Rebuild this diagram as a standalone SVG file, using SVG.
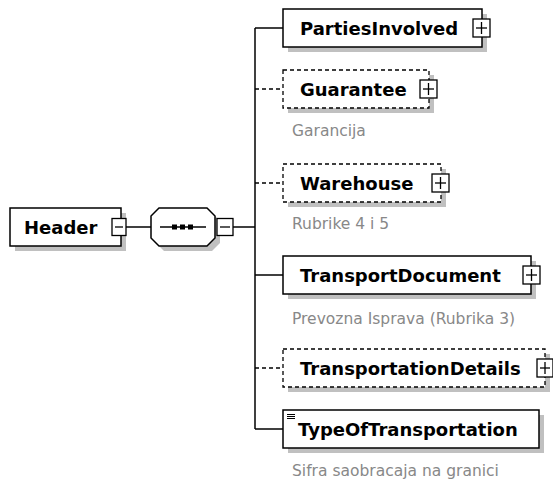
<svg xmlns="http://www.w3.org/2000/svg" width="553" height="480" viewBox="0 0 553 480">
<style>
  .box{fill:#fff;stroke:#000;stroke-width:1.5}
  .opt{fill:#fff;stroke:#000;stroke-width:1.3;stroke-dasharray:4 3}
  .shadow{fill:#c0c0c0;stroke:none}
  .btn{fill:#fff;stroke:#000;stroke-width:1.3}
  .sign{stroke:#000;stroke-width:1.3;fill:none}
  .name{font-family:"DejaVu Sans",Verdana,sans-serif;font-weight:bold;font-size:18px;fill:#000}
  .ann{font-family:"DejaVu Sans",Verdana,sans-serif;font-size:15.5px;fill:#888}
  .line{stroke:#000;stroke-width:1.5;fill:none}
  .dline{stroke:#000;stroke-width:1.3;fill:none;stroke-dasharray:4 3}
</style>
<rect width="553" height="480" fill="#fff"/>
<g id="connectors">
  <line class="line" x1="126" y1="227" x2="151" y2="227"/>
  <line class="line" x1="233" y1="227" x2="255" y2="227"/>
  <line class="line" x1="255" y1="28" x2="255" y2="429"/>
  <line class="line" x1="255" y1="28" x2="283" y2="28"/>
  <line class="dline" x1="255" y1="89" x2="283" y2="89"/>
  <line class="dline" x1="255" y1="183" x2="283" y2="183"/>
  <line class="line" x1="255" y1="275" x2="283" y2="275"/>
  <line class="dline" x1="255" y1="368" x2="283" y2="368"/>
  <line class="line" x1="255" y1="429" x2="283" y2="429"/>
</g>
<g id="Header">
  <rect class="shadow" x="15" y="213" width="111" height="38"/>
  <rect class="box" x="10" y="208" width="111" height="38"/>
  <text class="name" x="24" y="233.5">Header</text>
  <rect class="btn" x="112" y="218.5" width="14" height="17"/>
  <line class="sign" x1="115" y1="227" x2="123" y2="227"/>
</g>
<g id="sequence">
  <polygon class="shadow" points="164,213 212,213 220,221 220,243 212,251 164,251 156,243 156,221"/>
  <polygon class="box" points="159,208 207,208 215,216 215,238 207,246 159,246 151,238 151,216"/>
  <line class="line" x1="160" y1="227" x2="206" y2="227"/>
  <rect x="172" y="224.5" width="5" height="5" fill="#000"/>
  <rect x="180" y="224.5" width="5" height="5" fill="#000"/>
  <rect x="188" y="224.5" width="5" height="5" fill="#000"/>
  <rect class="btn" x="217" y="218.5" width="16" height="17"/>
  <line class="sign" x1="220" y1="227" x2="230" y2="227"/>
</g>
<g id="PartiesInvolved">
  <rect class="shadow" x="288" y="14" width="199" height="38"/>
  <rect class="box" x="283" y="9" width="199" height="38"/>
  <text class="name" x="300" y="34.5">PartiesInvolved</text>
  <rect class="btn" x="473" y="19" width="17" height="18"/>
  <line class="sign" x1="476" y1="28" x2="487" y2="28"/>
  <line class="sign" x1="481.5" y1="22" x2="481.5" y2="34"/>
</g>
<g id="Guarantee">
  <rect class="shadow" x="288" y="75" width="146" height="38"/>
  <rect class="opt" x="283" y="70" width="146" height="38"/>
  <text class="name" x="300" y="95.5">Guarantee</text>
  <rect class="btn" x="420" y="80" width="17" height="18"/>
  <line class="sign" x1="423" y1="89" x2="434" y2="89"/>
  <line class="sign" x1="428.5" y1="83" x2="428.5" y2="95"/>
  <text class="ann" x="292" y="136">Garancija</text>
</g>
<g id="Warehouse">
  <rect class="shadow" x="288" y="169" width="158" height="38"/>
  <rect class="opt" x="283" y="164" width="158" height="38"/>
  <text class="name" x="300" y="189.5">Warehouse</text>
  <rect class="btn" x="432" y="174" width="17" height="18"/>
  <line class="sign" x1="435" y1="183" x2="446" y2="183"/>
  <line class="sign" x1="440.5" y1="177" x2="440.5" y2="189"/>
  <text class="ann" x="292" y="229">Rubrike 4 i 5</text>
</g>
<g id="TransportDocument">
  <rect class="shadow" x="288" y="261" width="248" height="38"/>
  <rect class="box" x="283" y="256" width="248" height="38"/>
  <text class="name" x="300" y="281.5">TransportDocument</text>
  <rect class="btn" x="523" y="266" width="17" height="18"/>
  <line class="sign" x1="526" y1="275" x2="537" y2="275"/>
  <line class="sign" x1="531.5" y1="269" x2="531.5" y2="281"/>
  <text class="ann" x="292" y="324">Prevozna Isprava (Rubrika 3)</text>
</g>
<g id="TransportationDetails">
  <rect class="shadow" x="288" y="354" width="262" height="38"/>
  <rect class="opt" x="283" y="349" width="262" height="38"/>
  <text class="name" x="300" y="374.5">TransportationDetails</text>
  <rect class="btn" x="537" y="359" width="16" height="18"/>
  <line class="sign" x1="540" y1="368" x2="550" y2="368"/>
  <line class="sign" x1="545" y1="362" x2="545" y2="374"/>
</g>
<g id="TypeOfTransportation">
  <rect class="shadow" x="288" y="415" width="256" height="38"/>
  <rect class="box" x="283" y="410" width="256" height="38"/>
  <line x1="287" y1="414.5" x2="295" y2="414.5" stroke="#000" stroke-width="1"/>
  <line x1="287" y1="416.5" x2="295" y2="416.5" stroke="#000" stroke-width="1"/>
  <line x1="287" y1="418.5" x2="295" y2="418.5" stroke="#000" stroke-width="1"/>
  <text class="name" x="298" y="436">TypeOfTransportation</text>
  <text class="ann" x="292" y="476">Sifra saobracaja na granici</text>
</g>
</svg>
